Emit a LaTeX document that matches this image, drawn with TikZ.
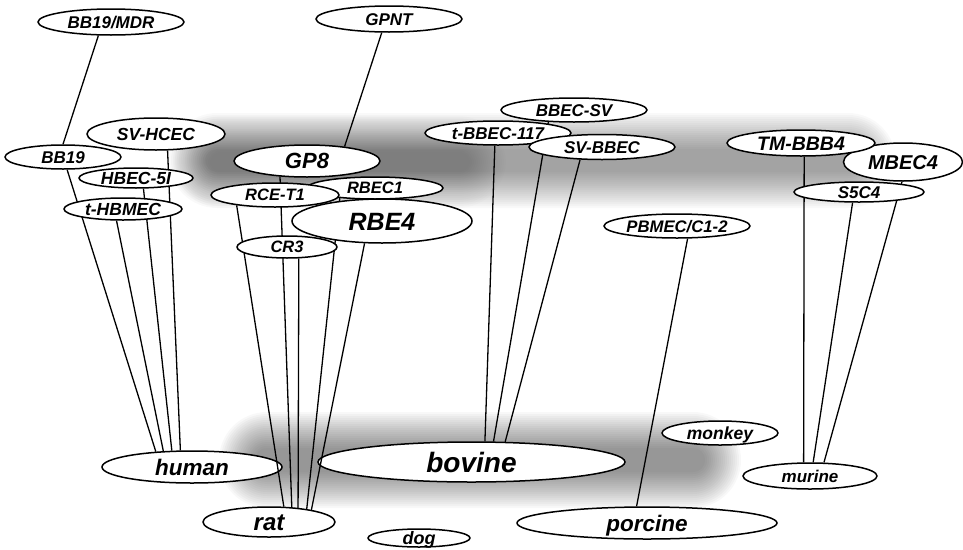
\documentclass[tikz,border=0pt]{standalone}
\usepackage{fontspec}
\setmainfont{Liberation Sans}
\usetikzlibrary{shapes.geometric}

\pgfdeclarelayer{haze}
\pgfdeclarelayer{species}
\pgfdeclarelayer{links}
\pgfsetlayers{haze,species,links,main}

% label text centred on the cap height, without enlarging the oval
\newcommand\celltext[1]{\smash{\raisebox{-0.36em}{#1}}}

\tikzset{
  oval/.style 2 args={ellipse, draw, fill=white, line width=1.5pt, inner sep=0pt,
                      minimum width=#1, minimum height=#2},
  fs/.style={font={\bfseries\itshape\fontsize{#1}{#1}\selectfont}},
  link/.style={line width=1.3pt},
}

% soft grey cloud: stacked translucent rounded rectangles
% #1 x1, #2 y1, #3 x2, #4 y2, #5 opacity per layer, #6 last layer index
\newcommand\cloud[6]{%
  \foreach \k in {0,...,#6}{
    \pgfmathsetmacro\rc{12+2*\k}
    \fill[black, opacity=#5, rounded corners=\rc pt]
      ({#1-2*\k},{#2-2*\k}) rectangle ({#3+2*\k},{#4+2*\k});
  }}

\begin{document}
\begin{tikzpicture}[x=1pt,y=-1pt]
\useasboundingbox (0,0) rectangle (963,549);

% ---- grey haze behind the groups
\begin{pgfonlayer}{haze}
  \cloud{205}{149}{860}{172}{0.025}{18}
  \cloud{210}{152}{470}{172}{0.011}{18}
  \cloud{255}{448}{705}{472}{0.028}{18}
\end{pgfonlayer}

% ---- species
\begin{pgfonlayer}{species}
  \node[oval={180}{32}, fs=22.5] (human)   at (192,467)   {\celltext{human}};
  \node[oval={307}{40}, fs=28]   (bovine)  at (471.5,462) {\celltext{bovine}};
  \node[oval={132}{30}, fs=24]   (rat)     at (269,522)   {\celltext{rat}};
  \node[oval={102}{18}, fs=18]   (dog)     at (419,538)   {\celltext{dog}};
  \node[oval={260}{32}, fs=22.5] (porcine) at (647,523)   {\celltext{porcine}};
  \node[oval={116}{24}, fs=17.5] (monkey)  at (720,433)   {\celltext{monkey}};
  \node[oval={134}{26}, fs=17]   (murine)  at (810,476)   {\celltext{murine}};
\end{pgfonlayer}

% ---- cell lines
\node[oval={146}{26}, fs=17]   (bb19mdr) at (111,22)  {\celltext{BB19/MDR}};
\node[oval={146}{26}, fs=17]   (gpnt)    at (389,19)  {\celltext{GPNT}};
\node[oval={138}{32}, fs=17.5] (svhcec)  at (156,134) {\celltext{SV-HCEC}};
\node[oval={116}{24}, fs=17]   (bb19)    at (63,157)  {\celltext{BB19}};
\node[oval={114}{20}, fs=17.5] (hbec5i)  at (136,178) {\celltext{HBEC-5I}};
\node[oval={118}{22}, fs=17.5] (thbmec)  at (123,209) {\celltext{t-HBMEC}};
\node[oval={136}{22}, fs=16.5] (rbec1)   at (375,188) {\celltext{RBEC1}};
\node[oval={146}{32}, fs=22]   (gp8)     at (307,161) {\celltext{GP8}};
\node[oval={128}{24}, fs=16.5] (rcet1)   at (275,195) {\celltext{RCE-T1}};
\node[oval={180}{44}, fs=25]   (rbe4)    at (382,221) {\celltext{RBE4}};
\node[oval={100}{22}, fs=16.5] (cr3)     at (287,247) {\celltext{CR3}};
\node[oval={146}{24}, fs=17]   (bbecsv)  at (574,110) {\celltext{BBEC-SV}};
\node[oval={146}{24}, fs=17]   (tbbec)   at (498,133) {\celltext{t-BBEC-117}};
\node[oval={146}{25}, fs=17]   (svbbec)  at (602,147) {\celltext{SV-BBEC}};
\node[oval={119}{38}, fs=20]   (mbec4)   at (903,162) {\celltext{MBEC4}};
\node[oval={148}{26}, fs=19.5] (tmbbb4)  at (801,143) {\celltext{TM-BBB4}};
\node[oval={130}{20}, fs=17]   (s5c4)    at (859,192) {\celltext{S5C4}};
\node[oval={146}{24}, fs=16.7] (pbmec)   at (677,226) {\celltext{PBMEC/C1-2}};

% ---- links from cell lines to species
\begin{pgfonlayer}{links}
  \draw[link] (bb19mdr.227) -- (bb19.90);
  \draw[link] (bb19.288)    -- (human.157);
  \draw[link] (thbmec.241)  -- (human.151);
  \draw[link] (hbec5i.305)  -- (human.141);
  \draw[link] (svhcec.305)  -- (human.125);
  \draw[link] (gpnt.242)    -- (gp8.21);
  \draw[link] (rcet1.195)   -- (rat.46);
  \draw[link] (gp8.210)     -- (rat.33);
  \draw[link] (cr3.316)     -- (rat.26);
  \draw[link] (rbec1.196)   -- (rat.19);
  \draw[link] (rbe4.232)    -- (rat.16);
  \draw[link] (tbbec.256)   -- (bovine.57);
  \draw[link] (bbecsv.205)  -- (bovine.43);
  \draw[link] (svbbec.210)  -- (bovine.31);
  \draw[link] (tmbbb4.283)  -- (murine.115);
  \draw[link] (s5c4.239)    -- (murine.77);
  \draw[link] (mbec4.267)   -- (murine.44);
  \draw[link] (pbmec.310)   -- (porcine.122);
\end{pgfonlayer}
\end{tikzpicture}
\end{document}
